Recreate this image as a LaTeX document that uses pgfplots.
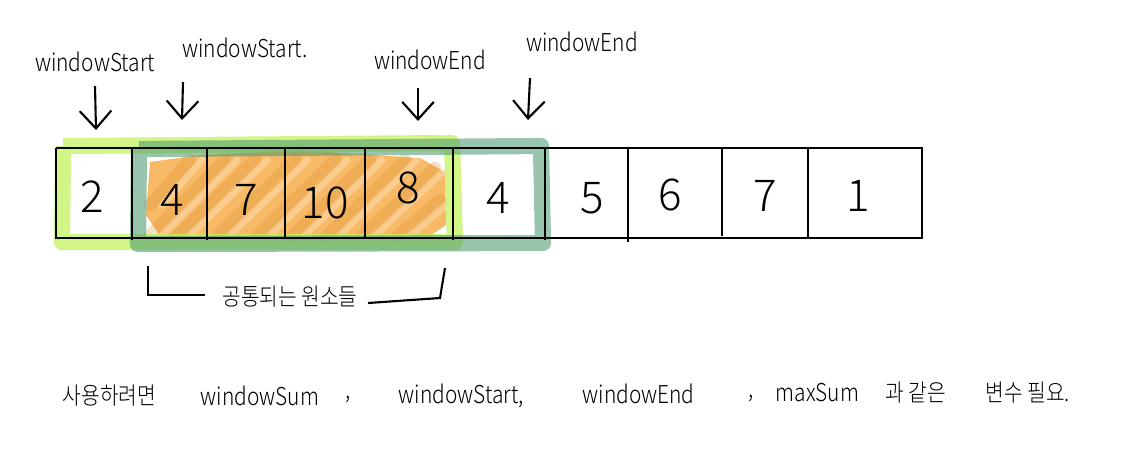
\documentclass[border=0pt]{standalone}
\usepackage{pgfplots}
\pgfplotsset{compat=1.18}
\usepackage{pgfplotstable}
\usetikzlibrary{arrows.meta}
\usepackage{fontspec}
\setmainfont{Noto Sans CJK KR}
\newfontfamily\hand{Noto Sans CJK KR Light}[]
\definecolor{lgreen}{RGB}{195,242,95}
\definecolor{dgreen}{RGB}{70,150,110}
\definecolor{orng}{RGB}{247,160,45}
\newcommand{\lt}[1]{\scalebox{0.85}[1]{\hand\fontsize{7}{8}\selectfont #1}}
\newcommand{\kt}[1]{\scalebox{0.85}[1]{\hand\fontsize{6.8}{8}\selectfont #1}}

\pgfplotstableread{
x y label
92 197 2
172 200 4
246 200 7
325 203 10
408 188 8
498 198 4
592 198 5
670 195 6
765 196 7
858 196 1
}\cells

\pgfplotstableread{
x y
132 148
132 240
nan nan
207 148
207 240
nan nan
285 148
285 238
nan nan
365 148
365 238
nan nan
453 148
453 240
nan nan
545 148
545 240
nan nan
628 148
628 242
nan nan
722 148
722 236
nan nan
808 148
808 238
}\vlines

\pgfplotstableread{
x y
150 205
190 160
nan nan
150 235
225 160
nan nan
175 238
255 160
nan nan
215 238
295 160
nan nan
255 238
335 160
nan nan
290 238
370 160
nan nan
325 238
405 160
nan nan
360 238
435 168
nan nan
395 238
440 200
}\scribble

\begin{document}
\begin{tikzpicture}
\begin{axis}[
  width=11.45cm, height=4.55cm, scale only axis,
  xmin=0, xmax=1145, ymin=0, ymax=455, y dir=reverse,
  hide axis, clip=false, unbounded coords=jump,
]
% invisible frame to fix the bounding box
\addplot[draw=none, forget plot] coordinates {(0,0) (1145,455)};

% orange fill over common elements
\addplot[draw=none, fill=orng, fill opacity=0.72, forget plot] coordinates {
 (150,162) (200,155) (300,150) (420,158) (445,172) (446,225) (430,236) (300,240) (160,236) (146,215) (150,162)};
\addplot[draw=orng!85!black, line width=3.5pt, opacity=0.25, line cap=round, forget plot] table {\scribble};
\addplot[draw=white, line width=2pt, opacity=0.25, line cap=round, forget plot] table[x expr=\thisrow{x}+12] {\scribble};

% light green window
\addplot[draw=lgreen, line width=4.6pt, opacity=0.75, line join=round, forget plot] coordinates {
 (63,146) (452,143) (455,242) (62,242) (63,146)};
% dark green window
\addplot[draw=dgreen, line width=4.6pt, opacity=0.55, line join=round, forget plot] coordinates {
 (139,149) (541,146) (543,243) (138,244) (139,149)};

% array grid
\addplot[black, line width=0.65pt, forget plot] coordinates {
 (56,148) (922,148) (922,238) (56,238) (56,148)};
\addplot[black, line width=0.65pt, forget plot] table {\vlines};

% cell values
\addplot[only marks, mark=none, nodes near coords, point meta=explicit symbolic,
  nodes near coords style={anchor=center, font=\hand\fontsize{12.5}{13}\selectfont}]
  table[meta=label] {\cells};

% arrows
\addplot[black, line width=0.6pt, -{Straight Barb[length=5pt,width=9pt]}] coordinates {(95,86) (96,130)};
\addplot[black, line width=0.6pt, -{Straight Barb[length=5pt,width=9pt]}] coordinates {(183,82) (182,120)};
\addplot[black, line width=0.6pt, -{Straight Barb[length=5pt,width=9pt]}] coordinates {(418,88) (418,121)};
\addplot[black, line width=0.6pt, -{Straight Barb[length=5pt,width=9pt]}] coordinates {(530,78) (528,120)};

% bracket under common elements
\addplot[black, line width=0.6pt] coordinates {(148,266) (148,295) (205,295)};
\addplot[black, line width=0.6pt] coordinates {(368,303) (440,298) (445,268)};

\node at (axis cs:95,62) {\lt{windowStart}};
\node at (axis cs:245,48) {\lt{windowStart.}};
\node at (axis cs:430,60) {\lt{windowEnd}};
\node at (axis cs:582,42) {\lt{windowEnd}};
\node at (axis cs:290,297) {\kt{공통되는 원소들}};

\node[anchor=west, inner sep=0pt] at (axis cs:62,396) {\kt{사용하려면}};
\node[anchor=west, inner sep=0pt] at (axis cs:200,396) {\lt{windowSum}};
\node[anchor=west, inner sep=0pt] at (axis cs:345,399) {\lt{,}};
\node[anchor=west, inner sep=0pt] at (axis cs:398,396) {\lt{windowStart,}};
\node[anchor=west, inner sep=0pt] at (axis cs:582,394) {\lt{windowEnd}};
\node[anchor=west, inner sep=0pt] at (axis cs:748,398) {\lt{,}};
\node[anchor=west, inner sep=0pt] at (axis cs:775,393) {\lt{maxSum}};
\node[anchor=west, inner sep=0pt] at (axis cs:885,393) {\kt{과 같은}};
\node[anchor=west, inner sep=0pt] at (axis cs:985,393) {\kt{변수 필요.}};
\end{axis}
\end{tikzpicture}
\end{document}
